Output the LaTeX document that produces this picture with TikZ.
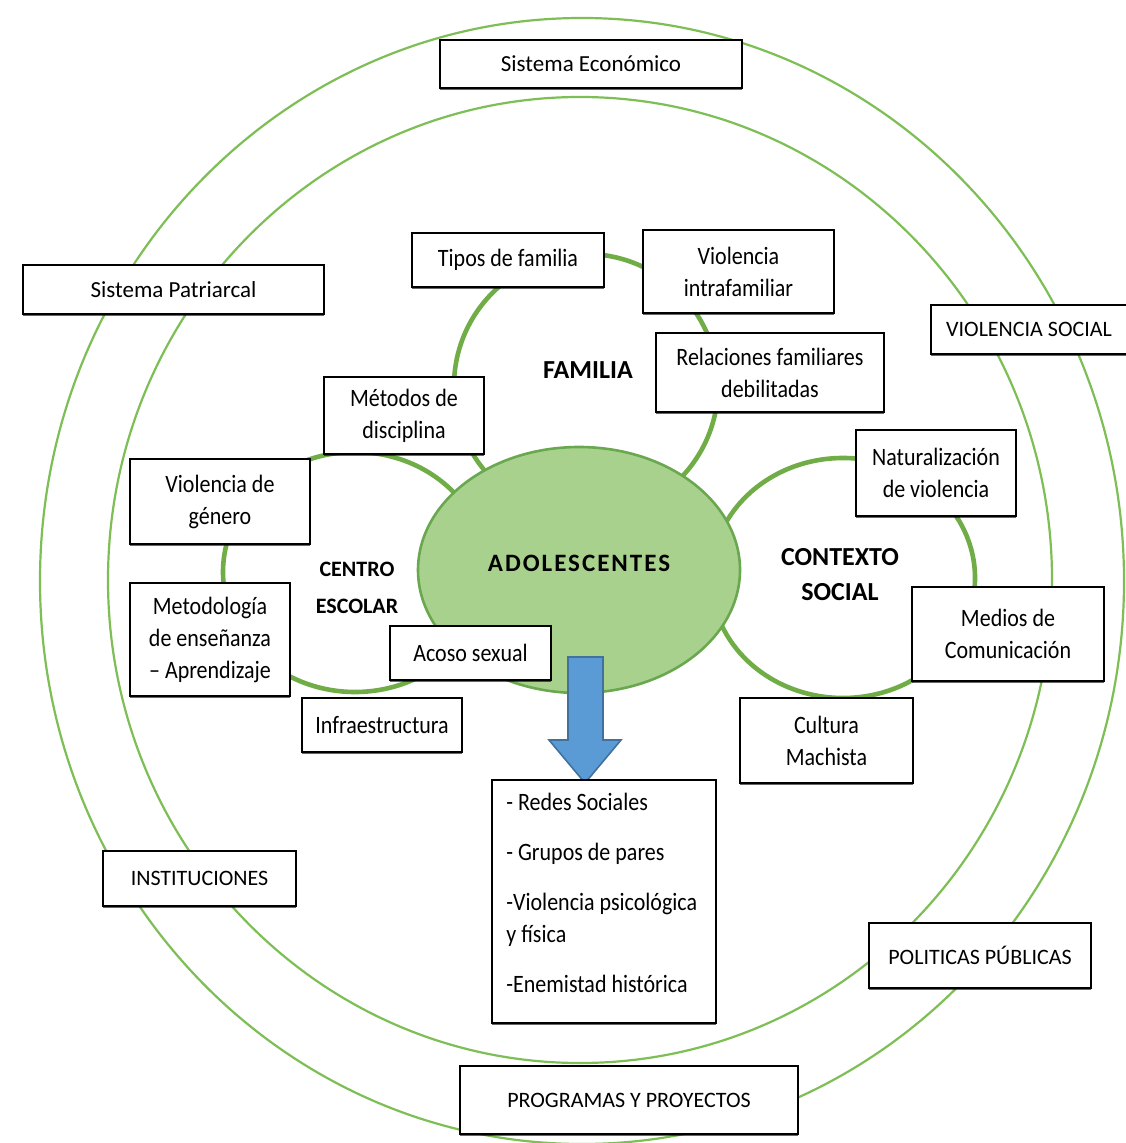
\documentclass[tikz,border=0pt]{standalone}
\usepackage{fontspec}
\setmainfont{Carlito}
\newfontfamily\boxfont{Carlito}[FakeStretch=0.88]
\usetikzlibrary{shadows,shapes.geometric}
\definecolor{ringgreen}{RGB}{125,190,85}
\definecolor{satgreen}{RGB}{112,173,71}
\definecolor{adofill}{RGB}{169,209,142}
\definecolor{adoedge}{RGB}{106,168,79}
\definecolor{arrowblue}{RGB}{91,155,213}
\definecolor{arrowedge}{RGB}{65,113,156}
\begin{document}
\begin{tikzpicture}[x=0.5pt,y=-0.5pt,
  ring/.style={draw=ringgreen, line width=1.1pt},
  sat/.style={draw=satgreen, line width=2.3pt},
  box/.style={draw=black, line width=0.9pt, fill=white, inner sep=0pt, align=center,
    font=\boxfont\fontsize{12.5}{16}\selectfont,
    drop shadow={shadow xshift=0pt, shadow yshift=-1.2pt, opacity=0.6, fill=black}},
  capbox/.style={box, font=\fontsize{11}{16}\selectfont},
  sz/.style 2 args={minimum width=#1*0.5pt, minimum height=#2*0.5pt},
  lab/.style={font=\bfseries\fontsize{12.5}{18}\selectfont, align=center, inner sep=0pt}]
\useasboundingbox (0,0) rectangle (1125,1143);
\fill[white] (0,0) rectangle (1125,1143);
% rings
\draw[ring] (582,581) ellipse [x radius=271pt, y radius=281.5pt];
\draw[ring] (580,580) ellipse [x radius=236pt, y radius=241.5pt];
% satellite circles
\draw[sat] (586,386) circle [radius=66pt];
\draw[sat] (355,572) ellipse [x radius=66pt, y radius=60pt];
\draw[sat] (843,578) ellipse [x radius=66pt, y radius=60pt];
% central ellipse
\node[ellipse, draw=adoedge, fill=adofill, line width=1.3pt, minimum width=161pt, minimum height=123pt, inner sep=0pt] (ado) at (579,570) {};
\node[lab, font=\bfseries\fontsize{12.5}{15}\selectfont\addfontfeature{LetterSpace=8}] (adotxt) at (579,563) {ADOLESCENTES};
% arrow
\filldraw[fill=arrowblue, draw=arrowedge, line width=0.8pt] (568,657) -- (603,657) -- (603,740) -- (621,740) -- (585,783) -- (549,740) -- (568,740) -- cycle;
% boxes
\node[capbox, sz={302}{48}, font=\fontsize{11.5}{16}\selectfont] (eco) at (591,64) {Sistema Económico};
\node[capbox, sz={301}{49}, font=\fontsize{11.5}{16}\selectfont] (patri) at (173.5,289.5) {Sistema Patriarcal};
\node[capbox, sz={200}{49}] (vsoc) at (1031,329.5) {\hspace*{-2pt}VIOLENCIA SOCIAL};
\node[box, sz={192}{54}] (tipos) at (508,260) {Tipos de familia};
\node[box, sz={191}{83}] (vintra) at (738.5,271.5) {Violencia\\intrafamiliar};
\node[box, sz={228}{79}] (relac) at (770,372.5) {Relaciones familiares\\debilitadas};
\node[box, sz={160}{77}] (metodos) at (404,415.5) {Métodos de\\disciplina};
\node[box, sz={180}{85}] (vgen) at (220,501.5) {Violencia de\\género};
\node[box, sz={160}{113}] (metodol) at (210,639.5) {Metodología\\de enseñanza\\– Aprendizaje};
\node[box, sz={161}{54}] (acoso) at (470.5,653) {Acoso sexual};
\node[box, sz={160}{54}] (infra) at (382,725) {Infraestructura};
\node[box, sz={160}{86}] (natur) at (936,473) {Naturalización\\de violencia};
\node[box, sz={192}{94}] (medios) at (1008,634) {Medios de\\Comunicación};
\node[box, sz={173}{85}] (cultura) at (826.5,740.5) {Cultura\\Machista};
\node[box, sz={224}{243}] (redes) at (604,901.5) {};
\node[anchor=north west, align=left, inner sep=0pt, font=\boxfont\fontsize{12.5}{16}\selectfont] (redestxt) at (506,793)
  {- Redes Sociales\\[9pt] - Grupos de pares\\[9pt] -Violencia psicológica\\ y física\\[9pt] -Enemistad histórica};
\node[capbox, sz={193}{55}] (instit) at (199.5,878.5) {INSTITUCIONES};
\node[capbox, sz={222}{65}] (polit) at (980,955.5) {POLITICAS PÚBLICAS};
\node[capbox, sz={338}{68}] (program) at (629,1100) {PROGRAMAS Y PROYECTOS};
% labels
\node[lab, font=\bfseries\fontsize{13}{18}\selectfont] (fam) at (588,370) {FAMILIA};
\node[lab, font=\bfseries\fontsize{11}{18.5}\selectfont] (centro) at (357,588) {CENTRO\\ESCOLAR};
\node[lab, font=\bfseries\fontsize{13}{17.5}\selectfont] (contexto) at (840,575) {CONTEXTO\\SOCIAL};
\end{tikzpicture}
\end{document}
